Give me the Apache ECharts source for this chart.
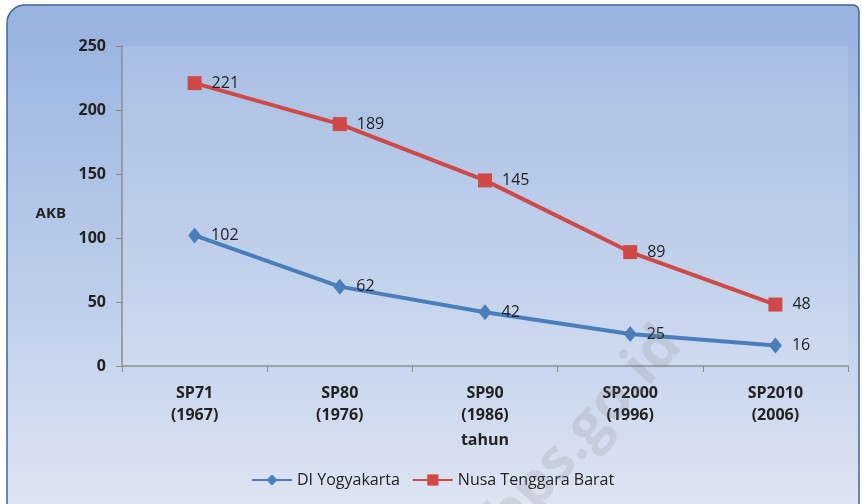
<!DOCTYPE html>
<html>
<head>
<meta charset="utf-8">
<script src="https://cdn.jsdelivr.net/npm/echarts@6/dist/echarts.min.js"></script>
<style>
  html, body { margin: 0; padding: 0; background: #fff; }
  #chart { width: 862px; height: 504px; }
</style>
</head>
<body>
<div id="chart"></div>
<script>
// data
const categories = ['SP71\n(1967)', 'SP80\n(1976)', 'SP90\n(1986)', 'SP2000\n(1996)', 'SP2010\n(2006)'];
const yogyakarta = [102, 62, 42, 25, 16];
const ntb = [221, 189, 145, 89, 48];
const yTicks = [0, 50, 100, 150, 200, 250];

const font = '"Open Sans", "Noto Sans", sans-serif';
const chart = echarts.init(document.getElementById('chart'));

const option = {
    backgroundColor: '#fff',
    animation: false,
    textStyle: { fontFamily: font },
    graphic: [
        {
            type: 'rect', z: -10, silent: true,
            shape: { x: 7, y: 5, width: 852, height: 510, r: [18, 6, 0, 0] },
            style: {
                fill: new echarts.graphic.LinearGradient(0, 0, 0, 1, [
                    { offset: 0, color: '#98b2df' },
                    { offset: 0.55, color: '#bccdea' },
                    { offset: 1, color: '#dfe6f3' }
                ]),
                stroke: '#3f64a0', lineWidth: 1.5
            }
        },
        {
            type: 'rect', z: -9, silent: true,
            shape: { x: 122, y: 46, width: 726, height: 320 },
            style: { fill: 'rgba(255,255,255,0.12)' }
        },
        {
            type: 'text', z: 10, silent: true,
            x: 585, y: 432, rotation: Math.PI * 48 / 180,
            style: {
                text: 'bps.go.id', fill: 'rgba(120,120,120,0.16)',
                font: 'bold 58px ' + font, align: 'center', verticalAlign: 'middle'
            }
        }
    ],
    grid: { left: 122, right: 14, top: 46, bottom: 138 },
    legend: {
        left: 246, top: 467,
        itemWidth: 40, itemHeight: 14, itemGap: 12,
        textStyle: { fontSize: 16, color: '#222', fontFamily: font },
        data: ['DI Yogyakarta', 'Nusa Tenggara Barat']
    },
    xAxis: {
        type: 'category',
        data: categories,
        boundaryGap: true,
        name: 'tahun',
        nameLocation: 'middle',
        nameGap: 66,
        nameTextStyle: { fontSize: 16, fontWeight: 'bold', color: '#222' },
        axisLine: { lineStyle: { color: '#8c8c8c', width: 1.5 } },
        axisTick: { show: true, length: 6, lineStyle: { color: '#8c8c8c' } },
        axisLabel: {
            fontSize: 16, fontWeight: 'bold', color: '#222',
            lineHeight: 22, margin: 16
        },
        splitLine: { show: false }
    },
    yAxis: {
        type: 'value',
        min: yTicks[0], max: yTicks[yTicks.length - 1], interval: 50,
        name: 'AKB',
        nameLocation: 'middle',
        nameRotate: 0,
        nameGap: 56,
        nameTextStyle: { fontSize: 15, fontWeight: 'bold', color: '#222', verticalAlign: 'top' },
        axisLine: { show: true, lineStyle: { color: '#8c8c8c', width: 1.5 } },
        axisTick: { show: true, length: 6, lineStyle: { color: '#8c8c8c' } },
        axisLabel: { fontSize: 16, fontWeight: 'bold', color: '#222', margin: 16 },
        splitLine: { show: false }
    },
    series: [
        {
            name: 'DI Yogyakarta',
            type: 'line',
            data: yogyakarta,
            symbol: 'diamond',
            symbolSize: [13, 16],
            lineStyle: { width: 4, color: '#4a7ebb' },
            itemStyle: { color: '#4a7ebb' },
            label: {
                show: true, position: 'right', distance: 10,
                fontSize: 16, color: '#222', fontFamily: font
            }
        },
        {
            name: 'Nusa Tenggara Barat',
            type: 'line',
            data: ntb,
            symbol: 'rect',
            symbolSize: 14,
            lineStyle: { width: 4, color: '#cf4a46' },
            itemStyle: { color: '#cf4a46' },
            label: {
                show: true, position: 'right', distance: 10,
                fontSize: 16, color: '#222', fontFamily: font
            }
        }
    ]
};

chart.setOption(option);
</script>
</body>
</html>
